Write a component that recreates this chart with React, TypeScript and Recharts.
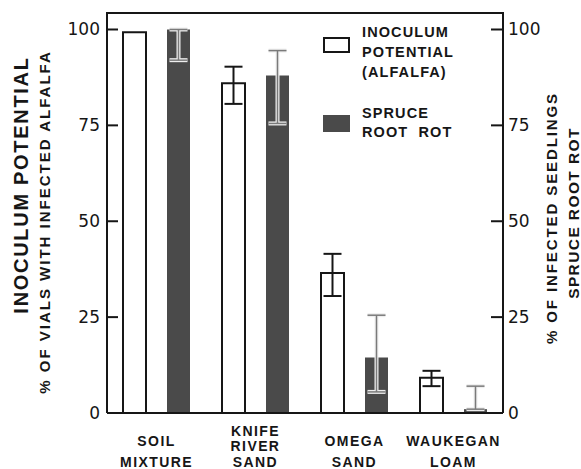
import { BarChart, Bar, XAxis, YAxis, ErrorBar, Legend } from 'recharts'

const categories = ['SOIL\nMIXTURE', 'KNIFE\nRIVER\nSAND', 'OMEGA\nSAND', 'WAUKEGAN\nLOAM']
const inoculum = [99.3, 86, 36.5, 9.2]
const inoculumErr: ([number, number] | null)[] = [null, [5.4, 4.3], [6, 5], [2.2, 1.8]]
const spruce = [100, 88, 14.5, 1]
const spruceErr: [number, number][] = [[8, 0], [12.5, 6.5], [9, 11], [0, 6]]
const yTicks = [0, 25, 50, 75, 100]
const Y_TOP = 104.3

const data = categories.map((name, i) => ({
    name,
    inoculum: inoculum[i],
    inoculumErr: inoculumErr[i],
    spruce: spruce[i],
    spruceErr: spruceErr[i],
}))

const INK = '#161616'
const DARK = '#4a4a4a'
const FONT = '"Liberation Sans", Arial, sans-serif'
const NUM_FONT = '"DejaVu Sans", sans-serif'

// plot box follows from the chart margins and axis sizes below
const PLOT = { left: 107, right: 503, top: 13 }

function LeftTick({ x, y, payload }: any) {
    return (
        <g>
            <line x1={x + 7} x2={x + 18} y1={y} y2={y} stroke={INK} strokeWidth={2} />
            <text x={x} y={y} dy={6} textAnchor="end" fontFamily={NUM_FONT} fontSize={17} fill={INK}>
                {payload.value}
            </text>
        </g>
    )
}

function RightTick({ x, y, payload }: any) {
    return (
        <g>
            <line x1={x - 17} x2={x - 5} y1={y} y2={y} stroke={INK} strokeWidth={2} />
            <text x={x} y={y} dy={6} textAnchor="start" fontFamily={NUM_FONT} fontSize={17} fill={INK}>
                {payload.value}
            </text>
        </g>
    )
}

function CategoryTick({ x, y, payload }: any) {
    const lines: string[] = String(payload.value).split('\n')
    const offsets = lines.length === 3 ? [22.5, 38, 53.5] : [32.5, 53.5]
    return (
        <g>
            {lines.map((ln, i) => (
                <text key={i} x={x} y={y + offsets[i]} textAnchor="middle" fontFamily={FONT}
                    fontWeight="bold" fontSize={14} letterSpacing={1.4} fill={INK}>
                    {ln}
                </text>
            ))}
        </g>
    )
}

function LegendBox() {
    const txt = { position: 'absolute' as const, left: 44, fontFamily: FONT, fontWeight: 'bold' as const, fontSize: 14.5, letterSpacing: 1.1, color: INK, lineHeight: '20px', whiteSpace: 'pre' as const }
    return (
        <div style={{ position: 'relative', width: 180, height: 130 }}>
            <div style={{ position: 'absolute', left: 5, top: 19, width: 27, height: 16, border: `2px solid ${INK}`, boxSizing: 'border-box', background: '#fff' }} />
            <div style={{ ...txt, top: 4 }}>{'INOCULUM\nPOTENTIAL\n(ALFALFA)'}</div>
            <div style={{ position: 'absolute', left: 5, top: 97, width: 27, height: 17, background: DARK }} />
            <div style={{ ...txt, top: 86, lineHeight: '19px' }}>{'SPRUCE\nROOT  ROT'}</div>
        </div>
    )
}

function AxisTitles() {
    const common = { fontFamily: FONT, fontWeight: 'bold' as const, fill: INK, textAnchor: 'middle' as const }
    return (
        <g>
            <text x={28} y={185} transform="rotate(-90 28 185)" fontSize={20} letterSpacing={1.7} {...common}>
                INOCULUM  POTENTIAL
            </text>
            <text x={50} y={222} transform="rotate(-90 50 222)" fontSize={15} letterSpacing={2} {...common}>
                % OF VIALS WITH INFECTED ALFALFA
            </text>
            <text x={557} y={218} transform="rotate(-90 557 218)" fontSize={15} letterSpacing={1.9} {...common}>
                % OF INFECTED SEEDLINGS
            </text>
            <text x={578.5} y={213} transform="rotate(-90 578.5 213)" fontSize={15.5} letterSpacing={1.4} {...common}>
                SPRUCE  ROOT  ROT
            </text>
        </g>
    )
}

export default function App() {
    return (
        <div style={{ position: 'absolute', left: 0, top: 0, width: 581, height: 469, background: '#fff' }}>
            <BarChart width={581} height={469} data={data} barSize={23} barGap={21}
                margin={{ top: PLOT.top, right: 0, bottom: 0, left: 0 }}>
                <XAxis dataKey="name" height={56} tick={<CategoryTick />} tickLine={false} tickSize={0} tickMargin={0}
                    interval={0} axisLine={{ stroke: INK, strokeWidth: 2 }} />
                <YAxis yAxisId="left" width={PLOT.left} domain={[0, Y_TOP]} ticks={yTicks} tick={<LeftTick />}
                    tickLine={false} tickSize={0} tickMargin={7} axisLine={{ stroke: INK, strokeWidth: 2 }} />
                <YAxis yAxisId="right" orientation="right" width={581 - PLOT.right} domain={[0, Y_TOP]} ticks={yTicks}
                    tick={<RightTick />} tickLine={false} tickSize={0} tickMargin={5}
                    axisLine={{ stroke: INK, strokeWidth: 2 }} />
                <Legend layout="vertical" align="center" verticalAlign="middle"
                    wrapperStyle={{ left: 318, top: 18, width: 180, height: 130 }}
                    content={() => <LegendBox />} />
                <Bar yAxisId="left" dataKey="inoculum" name="Inoculum potential (alfalfa)" fill="#fff"
                    stroke={INK} strokeWidth={2} isAnimationActive={false}>
                    <ErrorBar dataKey="inoculumErr" direction="y" width={9} stroke={INK} strokeWidth={2} />
                </Bar>
                <Bar yAxisId="right" dataKey="spruce" name="Spruce root rot" fill={DARK} isAnimationActive={false}>
                    <ErrorBar dataKey="spruceErr" direction="y" width={9} stroke="#eeeeee" strokeWidth={4} />
                    <ErrorBar dataKey="spruceErr" direction="y" width={9} stroke="#7a7a7a" strokeWidth={1.5} />
                </Bar>
                <AxisTitles />
            </BarChart>
            {/* top edge of the plot frame */}
            <div style={{ position: 'absolute', left: PLOT.left - 1, top: PLOT.top - 1, width: PLOT.right - PLOT.left + 2, height: 2, background: INK, pointerEvents: 'none' }} />
        </div>
    )
}
